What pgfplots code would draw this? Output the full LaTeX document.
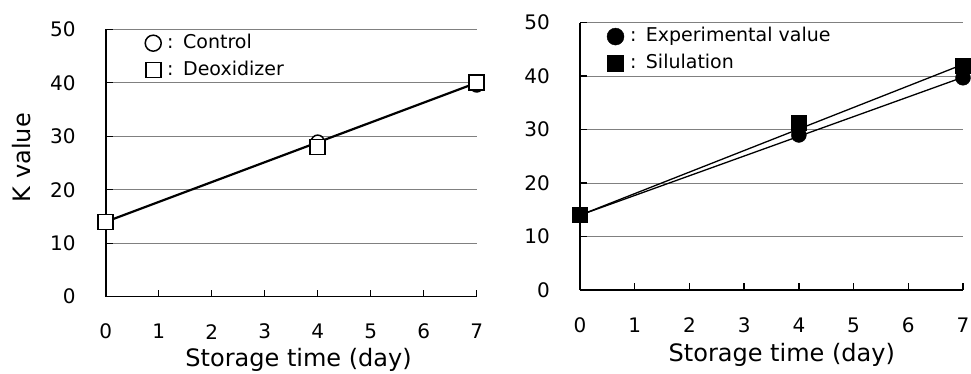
\documentclass[border=0pt]{standalone}
\usepackage{pgfplots}
\pgfplotsset{compat=1.18}
\usepackage{fontspec}
\setmainfont{DejaVu Sans}
\begin{document}
\begin{tikzpicture}
\path[use as bounding box] (0,0) rectangle (971pt,374pt);
\pgfplotsset{
  myaxis/.style={
    scale only axis,
    xmin=0, xmax=7, ymin=0, ymax=50,
    xtick={0,1,...,7}, ytick={0,10,...,50},
    axis x line=bottom, axis y line=left,
    axis line style={-, line width=1.6pt},
    tick align=inside,
    major tick length=7pt,
    tick style={line width=1.4pt, black},
    ymajorgrids, major grid style={line width=0.9pt, black!50},
    /pgf/number format/assume math mode=true,
    tick label style={font=\fontsize{20}{24}\selectfont, inner sep=0pt},
    xticklabel style={anchor=center, yshift=-35pt},
    yticklabel style={anchor=east, xshift=-30pt},
    label style={font=\fontsize{24}{28}\selectfont},
    clip=false,
    legend style={draw=none, fill=none, anchor=north west,
      font=\fontsize{19}{22}\selectfont, row sep=5pt, column sep=4pt, inner sep=0pt,
      nodes={inner sep=2pt, anchor=west, text height=14pt, text depth=4pt}},
    legend cell align=left,
    legend image code/.code={\draw[#1] plot coordinates {(0pt,0pt)};},
  }
}
\begin{axis}[myaxis,
  at={(105.7pt,77.3pt)}, anchor=south west,
  width=371pt, height=267.4pt,
  xlabel={Storage time (day)},
  xlabel style={at={(axis description cs:0.52,0)}, anchor=base, yshift=-70pt},
  ylabel={K value},
  ylabel style={at={(axis description cs:0,0.52)}, anchor=center, yshift=84pt},
  legend style={at={(axis description cs:0.106,0.99)}},
]
\addplot[only marks, mark=*, mark size=6.5pt, mark options={fill=white, draw=black, line width=1.5pt},
  legend image post style={mark size=8pt, line width=1.4pt}] coordinates {(0,14) (4,29) (7,39.5)};
\addplot[only marks, mark=square*, mark size=7.5pt, mark options={fill=white, draw=black, line width=1.6pt},
  legend image post style={mark size=7.5pt, line width=1.4pt}] coordinates {(0,14) (4,28) (7,40)};
\addplot[forget plot, black, line width=2.2pt] coordinates {(0,14) (7,40)};
\legend{:\enspace Control, :\enspace Deoxidizer}
\end{axis}
\begin{axis}[myaxis,
  at={(580pt,84pt)}, anchor=south west,
  width=383pt, height=267.3pt,
  xlabel={Storage time (day)},
  xlabel style={at={(axis description cs:0.527,0)}, anchor=base, yshift=-72pt},
  legend style={at={(axis description cs:0.07,0.99)}},
]
\addplot[only marks, mark=*, mark size=7.5pt, mark options={fill=black, draw=black},
  legend image post style={mark size=8.5pt}] coordinates {(0,14) (4,29) (7,39.7)};
\addplot[only marks, mark=square*, mark size=7.5pt, mark options={fill=black, draw=black},
  legend image post style={mark size=8pt}] coordinates {(0,14) (4,31.3) (7,42)};
\addplot[forget plot, black, line width=1.3pt] coordinates {(0,14) (7,39.8)};
\addplot[forget plot, black, line width=1.3pt] coordinates {(0,14) (7,42.2)};
\legend{:\enspace Experimental value, :\enspace Silulation}
\end{axis}
\end{tikzpicture}
\end{document}
